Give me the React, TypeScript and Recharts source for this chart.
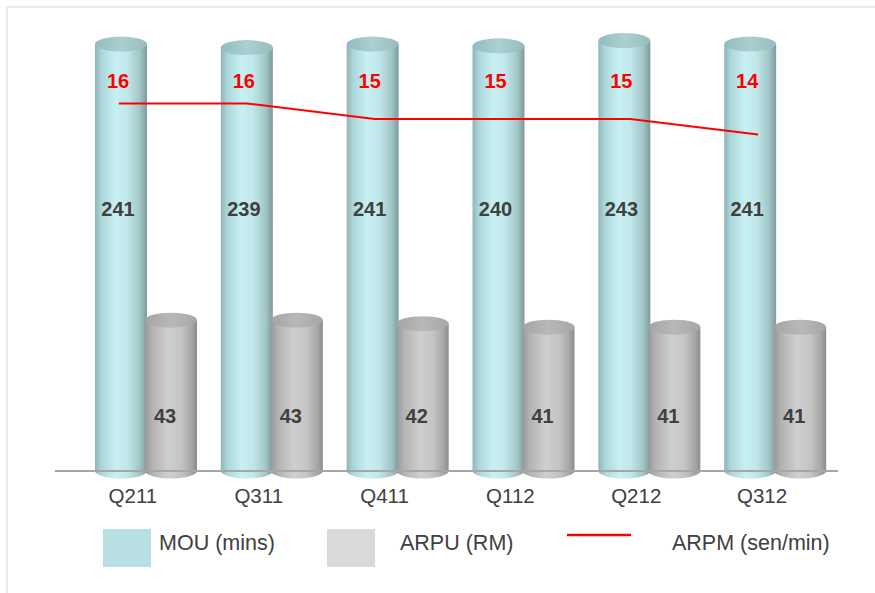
import React from 'react';
import { ComposedChart, Bar, Line, XAxis, YAxis, LabelList } from 'recharts';

const quarters = ['Q211', 'Q311', 'Q411', 'Q112', 'Q212', 'Q312'];
const mouMins = [241, 239, 241, 240, 243, 241];
const arpuRm = [43, 43, 42, 41, 41, 41];
const arpmSen = [16, 16, 15, 15, 15, 14];

const data = quarters.map((q, i) => ({
  quarter: q,
  mou: mouMins[i],
  arpu: arpuRm[i],
  arpm: arpmSen[i],
}));

const FONT = '"Liberation Sans", Arial, sans-serif';
const TEXT = '#404040';
const RED = '#ff0000';
const ARPM_LABEL_Y = 81;

// cylinder: value point sits at the centre of the top ellipse
function makeCylinder(id: string) {
  return function Cylinder(props: any) {
    const { x, y, width, height } = props;
    if (width == null || height == null) return null;
    const rx = width / 2;
    const ry = 7.5;
    const bottom = y + height;
    const side = `M${x},${y} L${x},${bottom} A${rx},${ry} 0 0 0 ${x + width},${bottom} L${x + width},${y} Z`;
    return (
      <g>
        <path d={side} fill={`url(#${id}-side)`} />
        <ellipse cx={x + rx} cy={y} rx={rx} ry={ry} fill={`url(#${id}-top)`} />
      </g>
    );
  };
}

const MouCylinder = makeCylinder('mou');
const ArpuCylinder = makeCylinder('arpu');

// value labels sit a fixed distance above the base of each cylinder
function valueLabel(rise: number, dx: number) {
  return (props: any) => {
    const { x, y, width, height, value } = props;
    return (
      <text
        x={x + width / 2 + dx}
        y={y + height - rise}
        textAnchor="middle"
        dominantBaseline="central"
        fontFamily={FONT}
        fontSize={20}
        fontWeight="bold"
        fill={TEXT}
      >
        {value}
      </text>
    );
  };
}

function arpmLabel(props: any) {
  const { x, width, value } = props;
  return (
    <text
      x={x + width / 2 - 3}
      y={ARPM_LABEL_Y}
      textAnchor="middle"
      dominantBaseline="central"
      fontFamily={FONT}
      fontSize={20}
      fontWeight="bold"
      fill={RED}
    >
      {value}
    </text>
  );
}

function LegendRow() {
  const textStyle = { fontFamily: FONT, fontSize: 21.5, fill: TEXT };
  return (
    <svg width={875} height={593} style={{ position: 'absolute', left: 0, top: 0 }}>
      <rect x={103} y={529} width={48} height={38} fill="#b8e0e3" />
      <text x={159} y={550} {...textStyle}>MOU (mins)</text>
      <rect x={327} y={529} width={48} height={38} fill="#d9d9d9" />
      <text x={400} y={550} {...textStyle}>ARPU (RM)</text>
      <line x1={567} x2={631} y1={535} y2={535} stroke={RED} strokeWidth={2.5} />
      <text x={672} y={550} {...textStyle}>ARPM (sen/min)</text>
    </svg>
  );
}

export default function App() {
  return (
    <div style={{ position: 'absolute', left: 0, top: 0, width: 875, height: 593, background: '#fff' }}>
      <div
        style={{
          position: 'absolute',
          left: 6,
          top: 6,
          width: 869,
          height: 587,
          borderTop: '2px solid #ebebeb',
          borderLeft: '2px solid #ebebeb',
        }}
      />
      <div style={{ position: 'absolute', left: 0, top: 0 }}>
        <ComposedChart
          width={875}
          height={593}
          data={data}
          margin={{ top: 29, right: 37, bottom: 92, left: 55 }}
          barCategoryGap={12}
          barGap={-2}
        >
          <defs>
            <linearGradient id="mou-side" x1="0" y1="0" x2="1" y2="0">
              <stop offset="0%" stopColor="#8fb5b8" />
              <stop offset="12%" stopColor="#abd6d9" />
              <stop offset="40%" stopColor="#c8f0f2" />
              <stop offset="62%" stopColor="#c0e8ea" />
              <stop offset="86%" stopColor="#a2c6c8" />
              <stop offset="100%" stopColor="#7d9a9c" />
            </linearGradient>
            <linearGradient id="mou-top" x1="0" y1="0" x2="1" y2="0">
              <stop offset="0%" stopColor="#93babd" />
              <stop offset="50%" stopColor="#abd0d2" />
              <stop offset="100%" stopColor="#98bcbe" />
            </linearGradient>
            <linearGradient id="arpu-side" x1="0" y1="0" x2="1" y2="0">
              <stop offset="0%" stopColor="#989898" />
              <stop offset="14%" stopColor="#b3b3b3" />
              <stop offset="45%" stopColor="#cfcfcf" />
              <stop offset="70%" stopColor="#c4c4c4" />
              <stop offset="90%" stopColor="#a6a6a6" />
              <stop offset="100%" stopColor="#8c8c8c" />
            </linearGradient>
            <linearGradient id="arpu-top" x1="0" y1="0" x2="1" y2="0">
              <stop offset="0%" stopColor="#a4a4a4" />
              <stop offset="50%" stopColor="#b8b8b8" />
              <stop offset="100%" stopColor="#a6a6a6" />
            </linearGradient>
          </defs>
          <XAxis
            xAxisId="bars"
            dataKey="quarter"
            height={30}
            padding={{ left: 28, right: 0 }}
            axisLine={{ stroke: '#a6a6a6', strokeWidth: 2 }}
            tickLine={false}
            tickSize={0}
            tickMargin={17}
            interval={0}
            tick={{ fill: TEXT, fontSize: 20.5, fontFamily: FONT, dx: -13 }}
          />
          <XAxis xAxisId="line" dataKey="quarter" hide padding={{ left: 0, right: 16 }} />
          <YAxis yAxisId="mou" hide domain={[0, 249.5]} />
          <YAxis yAxisId="arpu" hide domain={[0, 126]} />
          <YAxis yAxisId="arpm" hide domain={[-7.7, 20.8]} />
          <Bar
            xAxisId="bars"
            yAxisId="mou"
            dataKey="mou"
            name="MOU (mins)"
            shape={<MouCylinder />}
            isAnimationActive={false}
          >
            <LabelList dataKey="mou" content={valueLabel(262, -3)} />
            <LabelList dataKey="arpm" content={arpmLabel} />
          </Bar>
          <Bar
            xAxisId="bars"
            yAxisId="arpu"
            dataKey="arpu"
            name="ARPU (RM)"
            shape={<ArpuCylinder />}
            isAnimationActive={false}
          >
            <LabelList dataKey="arpu" content={valueLabel(55, -6)} />
          </Bar>
          <Line
            xAxisId="line"
            yAxisId="arpm"
            dataKey="arpm"
            name="ARPM (sen/min)"
            type="linear"
            stroke={RED}
            strokeWidth={2}
            dot={false}
            activeDot={false}
            isAnimationActive={false}
          />
        </ComposedChart>
      </div>
      <LegendRow />
    </div>
  );
}
